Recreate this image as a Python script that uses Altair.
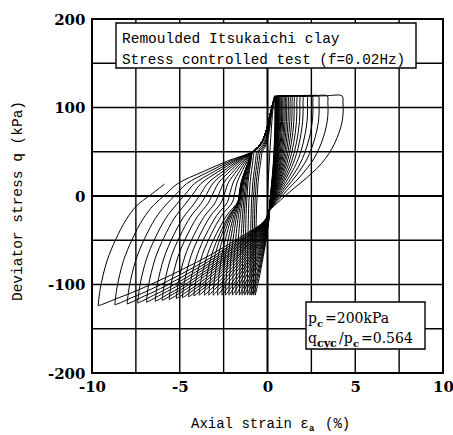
import pandas as pd
import altair as alt

# ---------------- data ----------------
# strain (%) reached at the positive stress peak of each cycle
peak_strain_pos = [0.42, 0.44, 0.46, 0.48, 0.50, 0.52, 0.54, 0.57, 0.60, 0.63,
                   0.66, 0.70, 0.75, 0.80, 0.86, 0.93, 1.00, 1.08, 1.17, 1.27,
                   1.38, 1.50, 1.65, 1.82, 2.00, 2.25, 2.55, 2.90, 3.40, 4.25]
# deviator stress (kPa) at the positive peak
peak_q_pos = [113.0] * 30
# strain (%) reached at the negative stress peak of each cycle
peak_strain_neg = [-0.70, -0.80, -0.90, -1.00, -1.15, -1.30, -1.45, -1.60, -1.80, -2.00,
                   -2.20, -2.40, -2.60, -2.85, -3.10, -3.35, -3.60, -3.90, -4.20, -4.50,
                   -4.85, -5.20, -5.60, -6.00, -6.40, -6.90, -7.40, -8.00, -8.70, -9.65]
# deviator stress (kPa) at the negative peak
peak_q_neg = [-112, -112, -112, -112, -112, -112, -112, -112, -112, -112,
              -112, -112, -112, -112, -112, -112, -112, -112, -113, -114,
              -115, -116, -117, -118, -119, -120, -121, -122, -123, -124]

# branch shapes
# reloading arc from the negative peak: strain offsets (%) and fraction of the
# stress rise towards the convergence point
arc_dx = [0, 0.12, 0.5, 1.0, 1.6, 2.2]
arc_f = [0, 0.11, 0.29, 0.43, 0.56, 0.65]
# then the gentle part up to the convergence point
gentle_r = [0.12, 0.24, 0.5, 0.75, 1.0]
gentle_f = [0.72, 0.79, 0.87, 0.94, 1.0]
reload_conv_x = -0.85
reload_conv_q = 50.0
# steep centre part of the reloading branch
centre_x = [-0.85, -0.55, -0.30, -0.05, 0.15, 0.30, 0.42, 0.50]
centre_q = [50, 55, 62, 75, 92, 104, 110, 112]
# flat top up to the positive peak
top_t = [0, 0.4, 0.75, 1.0]
top_q = [112.0, 112.6, 113.2]
# unloading arc from the positive peak to the convergence point
unload_v = [1.0, 1.012, 1.015, 1.0, 0.96, 0.90, 0.82, 0.72, 0.60, 0.45, 0.30, 0.15, 0.0]
unload_q = [105, 95, 84, 72, 60, 48, 37, 27, 16, 6, -5, -17]
unload_conv_x = 0.1
unload_conv_q = -17.0
# unloading diagonal down to the negative peak
diag_w = [0, 0.02, 0.05, 0.10, 0.20, 0.35, 0.50, 0.65, 0.80, 0.90, 0.96, 1.0]
diag_g = [0, 0.08, 0.14, 0.20, 0.31, 0.47, 0.61, 0.74, 0.86, 0.93, 0.975, 1.0]
# first monotonic loading from the origin
first_x = [0.0, 0.05, 0.12, 0.20, 0.28, 0.35]
first_q = [0, 20, 45, 70, 92, 106]
# the last (incomplete) reloading stops here
last_reload_r = 0.25

grid_x = [-7.5, -5, -2.5, 2.5, 5, 7.5]
grid_y = [-150, -100, -50, 50, 100, 150]
zero_x = [0]
zero_y = [0]
x_ticks = [-10, -5, 0, 5, 10]
y_ticks = [-200, -100, 0, 100, 200]

# ---------------- build the stress path ----------------
xs, qs = [], []


def add(x, q):
    xs.append(x)
    qs.append(q)


def top_part(ep, qp, xtop):
    for t, q in zip(top_t[1:], top_q[1:] + [qp]):
        add(xtop + t * (ep - xtop), q)


def reload_part(en, qn, r_max=1.0):
    xc = max(reload_conv_x, en + 0.4)
    width = xc - en
    s = min(1.0, width / 3.0) ** 0.6 * min(1.0, 0.75 * width / arc_dx[-1])
    rise = reload_conv_q - qn
    for dx, f in zip(arc_dx, arc_f):
        add(en + dx * s, qn + f * rise)
    xa = en + arc_dx[-1] * s
    for r, f in zip(gentle_r, gentle_f):
        if r > r_max:
            break
        add(xa + r * (xc - xa), qn + f * rise)
    return xc


n = len(peak_strain_pos)
for k in range(n):
    ep, qp = peak_strain_pos[k], peak_q_pos[k]
    en, qn = peak_strain_neg[k], peak_q_neg[k]
    xtop = min(0.5, ep - 0.04)
    if k == 0:
        for x, q in zip(first_x, first_q):
            add(x, q)
        add(xtop, 112.0)
    else:
        enp, qnp = peak_strain_neg[k - 1], peak_q_neg[k - 1]
        xc = reload_part(enp, qnp)
        for cx, cq in zip(centre_x[1:], centre_q[1:]):
            s = (cx - centre_x[0]) / (centre_x[-1] - centre_x[0])
            add(xc + s * (xtop - xc), cq)
    top_part(ep, qp, xtop)
    for v, q in zip(unload_v[1:], unload_q):
        add(unload_conv_x + v * (ep - unload_conv_x), q)
    for w, g in zip(diag_w[1:], diag_g[1:]):
        add(unload_conv_x + w * (en - unload_conv_x), unload_conv_q + g * (qn - unload_conv_q))

reload_part(peak_strain_neg[-1], peak_q_neg[-1], r_max=last_reload_r)

path = pd.DataFrame({"strain": xs, "q": qs, "i": list(range(len(xs)))})

# ---------------- chart ----------------
OX, OY = 92, 19  # plot-area origin in page pixels
xscale = alt.Scale(domain=[-10, 10], nice=False)
yscale = alt.Scale(domain=[-200, 200], nice=False)
label_expr = "'' + datum.value"
xaxis = alt.Axis(values=x_ticks, grid=False, ticks=False, domain=False, title=None,
                 labelFont="DejaVu Serif", labelFontSize=15, labelFontWeight="bold",
                 labelColor="black", labelPadding=6, labelExpr=label_expr, labelFlush=False)
yaxis = alt.Axis(values=y_ticks, grid=False, ticks=False, domain=False, title=None,
                 labelFont="DejaVu Serif", labelFontSize=15, labelFontWeight="bold",
                 labelColor="black", labelPadding=7, labelExpr=label_expr, labelFlush=False)

gx = alt.Chart(pd.DataFrame({"g": grid_x})).mark_rule(color="black", strokeWidth=1.4).encode(
    x=alt.X("g:Q", scale=xscale, axis=xaxis))
gy = alt.Chart(pd.DataFrame({"g": grid_y})).mark_rule(color="black", strokeWidth=1.4).encode(
    y=alt.Y("g:Q", scale=yscale, axis=yaxis))
zx = alt.Chart(pd.DataFrame({"g": zero_x})).mark_rule(color="black", strokeWidth=2).encode(
    x=alt.X("g:Q", scale=xscale, axis=xaxis))
zy = alt.Chart(pd.DataFrame({"g": zero_y})).mark_rule(color="black", strokeWidth=2).encode(
    y=alt.Y("g:Q", scale=yscale, axis=yaxis))

loops = alt.Chart(path).mark_line(color="black", strokeWidth=1.0, interpolate="catmull-rom").encode(
    x=alt.X("strain:Q", scale=xscale, axis=xaxis),
    y=alt.Y("q:Q", scale=yscale, axis=yaxis),
    order="i:Q",
)


def box(x1, y1, x2, y2):
    return alt.Chart(pd.DataFrame({"a": [0]})).mark_rect(
        fill="white", stroke="black", strokeWidth=1.4).encode(
        x=alt.value(x1 - OX), x2=alt.value(x2 - OX), y=alt.value(y1 - OY), y2=alt.value(y2 - OY))


def txt(s, px, py, size, font="Liberation Mono", align="left", baseline="alphabetic",
        angle=None, weight="normal"):
    kw = dict(text=s, font=font, fontSize=size, align=align, baseline=baseline,
              color="black", fontWeight=weight)
    if angle is not None:
        kw["angle"] = angle
    return alt.Chart(pd.DataFrame({"a": [0]})).mark_text(**kw).encode(
        x=alt.value(px - OX), y=alt.value(py - OY))


serif = "DejaVu Serif"
texts = [
    box(116, 23, 416, 68),
    txt("Remoulded Itsukaichi clay", 122, 43, 14.5),
    txt("Stress controlled test (f=0.02Hz)", 122, 64, 14.3),
    box(306, 302, 425, 349),
    txt("p", 308, 323, 14, font=serif),
    txt("c", 317, 327, 10, font=serif, weight="bold"),
    txt("=200kPa", 325, 323, 14, font=serif),
    txt("q", 308, 343, 14, font=serif),
    txt("cyc", 317, 347, 11, font=serif, weight="bold"),
    txt("/p", 339, 343, 14, font=serif),
    txt("c", 353, 347, 10, font=serif, weight="bold"),
    txt("=0.564", 361, 343, 14, font=serif),
    txt("Axial strain \u03b5", 191, 428, 14),
    txt("a", 309, 431, 9, weight="bold"),
    txt("(%)", 325, 428, 14),
    txt("Deviator stress q (kPa)", 18, 201, 14.5, align="center", baseline="middle", angle=270),
]

chart = alt.layer(gx, gy, zx, zy, loops, *texts).properties(
    width=351, height=354,
    autosize=alt.AutoSizeParams(type="none"),
    padding={"left": 92, "top": 19, "right": 10, "bottom": 62},
    background="white",
).configure_view(stroke="black", strokeWidth=2)

chart.save("out.html", embed_options={"renderer": "svg", "actions": False})
